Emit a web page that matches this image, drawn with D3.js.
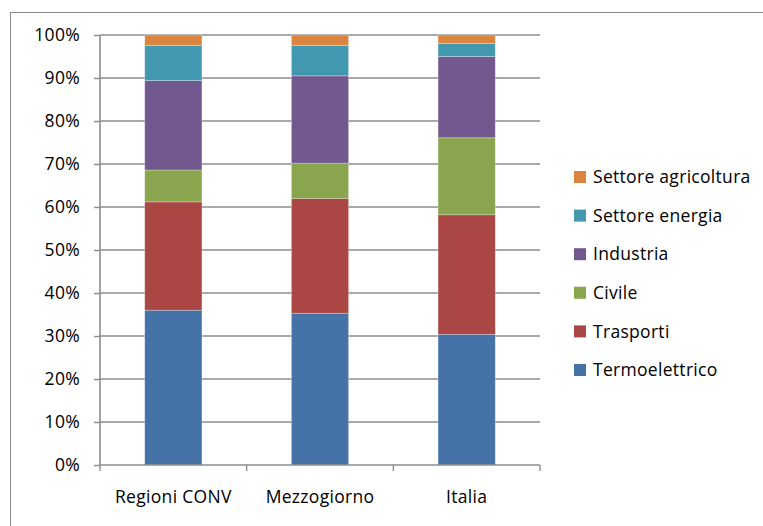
<!DOCTYPE html>
<html><head><meta charset="utf-8">
<script src="https://cdn.jsdelivr.net/npm/d3@7"></script>
<style>body{margin:0;background:#fff}svg{display:block}text{font-family:"Open Sans",Lato,sans-serif;fill:#000;letter-spacing:0.3px}</style>
</head><body><div id="chart"></div>
<script>
const categories = ["Regioni CONV", "Mezzogiorno", "Italia"];
const seriesNames = ["Termoelettrico", "Trasporti", "Civile", "Industria", "Settore energia", "Settore agricoltura"];
const termoelettrico = [36.0, 35.3, 30.4];
const trasporti = [25.2, 26.7, 27.8];
const civile = [7.4, 8.2, 17.9];
const industria = [20.8, 20.3, 18.9];
const energia = [8.2, 7.1, 3.0];
const agricoltura = [2.4, 2.4, 2.0];
const colors = ["#4572A7", "#AA4643", "#89A54E", "#71588F", "#4198AF", "#DB843D"];
const yTicks = [0, 0.1, 0.2, 0.3, 0.4, 0.5, 0.6, 0.7, 0.8, 0.9, 1.0];

const W = 763, H = 526;
const FONT = "'Open Sans', Lato, sans-serif";
const FS = "17.5px";
const svg = d3.select("#chart").append("svg").attr("width", W).attr("height", H);
// frame (partly cropped)
svg.append("rect").attr("x", 10.5).attr("y", 12.5).attr("width", 800).attr("height", 600)
  .attr("fill", "none").attr("stroke", "#8a8a8a").attr("stroke-width", 1);

const pLeft = 100, pRight = 540, pTop = 35, pBottom = 465;
const x = d3.scaleBand().domain(categories).range([pLeft, pRight]).paddingInner(0.61).paddingOuter(0.305);
const y = d3.scaleLinear().domain([0, 1]).range([pBottom, pTop]);

const seriesData = [termoelettrico, trasporti, civile, industria, energia, agricoltura];
const rows = categories.map((c, i) => {
  const r = {cat: c};
  seriesNames.forEach((s, j) => r[s] = seriesData[j][i]);
  return r;
});
const totals = rows.map(r => d3.sum(seriesNames, s => r[s]));
rows.forEach((r, i) => seriesNames.forEach(s => r[s] = r[s] / totals[i]));
const stacked = d3.stack().keys(seriesNames)(rows);

// gridlines
svg.append("g").selectAll("line").data(yTicks.slice(1)).join("line")
  .attr("x1", pLeft).attr("x2", pRight).attr("y1", d => y(d)).attr("y2", d => y(d))
  .attr("stroke", "#8c8c8c").attr("stroke-width", 1.6);

// bars
svg.append("g").selectAll("g").data(stacked).join("g")
  .attr("fill", (d, i) => colors[i])
  .selectAll("rect").data(d => d).join("rect")
  .attr("x", d => x(d.data.cat)).attr("width", x.bandwidth())
  .attr("y", d => y(d[1])).attr("height", d => y(d[0]) - y(d[1]))
  .attr("stroke", "rgba(255,255,255,0.35)").attr("stroke-width", 0.8);

// y axis
const yAxis = d3.axisLeft(y).tickValues(yTicks).tickFormat(d3.format(".0%")).tickSize(6).tickPadding(14);
const gy = svg.append("g").attr("transform", `translate(${pLeft},0)`).call(yAxis);
gy.select(".domain").attr("stroke", "#8c8c8c").attr("stroke-width", 1.6).attr("d", `M0,${pTop}V${pBottom}`);
gy.selectAll(".tick line").attr("stroke", "#8c8c8c").attr("stroke-width", 1.4);
gy.selectAll(".tick text").style("font-family", FONT).style("font-size", FS).attr("fill", "#000");

// x axis
const xAxis = d3.axisBottom(x).tickSize(0).tickPadding(26);
const gx = svg.append("g").attr("transform", `translate(0,${pBottom})`).call(xAxis);
gx.select(".domain").attr("stroke", "#8c8c8c").attr("stroke-width", 1.6).attr("d", `M${pLeft},0H${pRight}`);
gx.selectAll(".tick text").style("font-family", FONT).style("font-size", FS).attr("fill", "#000");
const bounds = [0, 1, 2, 3].map(i => pLeft + i * x.step());
svg.append("g").selectAll("line").data(bounds).join("line")
  .attr("x1", d => d).attr("x2", d => d).attr("y1", pBottom).attr("y2", pBottom + 6)
  .attr("stroke", "#8c8c8c").attr("stroke-width", 1.4);

// legend
const legendOrder = seriesNames.map((s, i) => ({s, c: colors[i]})).reverse();
const lg = svg.append("g").attr("transform", "translate(574,177)");
const item = lg.selectAll("g").data(legendOrder).join("g")
  .attr("transform", (d, i) => `translate(0,${i * 38.6})`);
item.append("rect").attr("x", 0).attr("y", -6).attr("width", 12).attr("height", 12).attr("fill", d => d.c);
item.append("text").attr("x", 19).attr("y", 0).attr("dy", "0.35em")
  .style("font-family", FONT).style("font-size", FS).text(d => d.s);
</script></body></html>
